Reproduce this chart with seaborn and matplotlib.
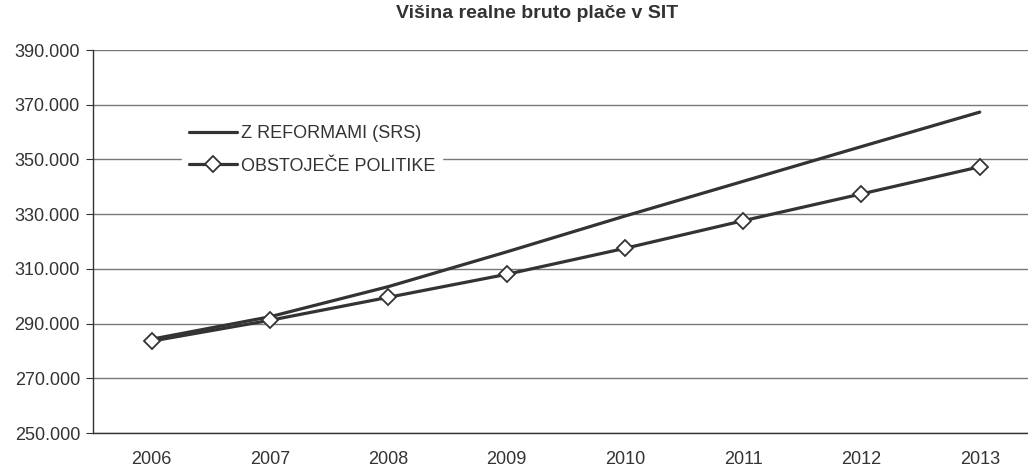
import matplotlib
matplotlib.use("Agg")
import matplotlib.pyplot as plt
from matplotlib.ticker import FuncFormatter, FixedLocator
import seaborn as sns
import pandas as pd

years = ["2006", "2007", "2008", "2009", "2010", "2011", "2012", "2013"]
reform = [284300, 292500, 303500, 316200, 329300, 342000, 354700, 367300]
current = [283600, 291200, 299600, 308000, 317500, 327600, 337400, 347300]
series_names = ["Z REFORMAMI (SRS)", "OBSTOJEČE POLITIKE"]

df = pd.DataFrame({
    "year": years * 2,
    "value": reform + current,
    "series": [series_names[0]] * len(years) + [series_names[1]] * len(years),
})

sns.set_style("white")
plt.rcParams["font.family"] = ["Liberation Sans", "DejaVu Sans"]
ink = "#333333"

fig = plt.figure(figsize=(10.28, 4.70), dpi=100)
ax = fig.add_axes([0.09, 0.0787, 0.9206, 0.8149])

sns.lineplot(data=df[df.series == series_names[0]], x="year", y="value",
             color=ink, linewidth=2.3, ax=ax, label=series_names[0])
sns.lineplot(data=df[df.series == series_names[1]], x="year", y="value",
             color=ink, linewidth=2.3, marker="D", markersize=8.5,
             markerfacecolor="white", markeredgecolor=ink, markeredgewidth=1.3,
             ax=ax, label=series_names[1])

ax.set_xlim(-0.5, len(years) - 0.5)
ax.set_ylim(250000, 390000)
ax.set_yticks(range(250000, 390001, 20000))
ax.yaxis.set_major_formatter(FuncFormatter(lambda v, p: f"{int(v):,}".replace(",", ".")))
ax.grid(axis="y", color="#777777", linewidth=1)
ax.set_axisbelow(True)

ax.xaxis.set_minor_locator(FixedLocator([i - 0.5 for i in range(len(years) + 1)]))
ax.tick_params(axis="x", which="major", length=0, pad=13, labelsize=13, labelcolor=ink)
ax.tick_params(axis="x", which="minor", length=5, direction="out", color=ink, width=1)
ax.tick_params(axis="y", length=5, direction="out", color=ink, labelsize=13,
               labelcolor=ink, left=True, pad=4)

for s in ["top", "right"]:
    ax.spines[s].set_visible(False)
for s in ["left", "bottom"]:
    ax.spines[s].set_color(ink)
    ax.spines[s].set_linewidth(1)

ax.set_xlabel("")
ax.set_ylabel("")

leg = ax.legend(loc="center left", bbox_to_anchor=(0.177, 1 - 150 / 470),
                bbox_transform=fig.transFigure, frameon=True,
                fontsize=13, handlelength=2.65, handletextpad=0.2,
                borderpad=0.4, labelspacing=0.85, borderaxespad=0)
leg.get_frame().set_facecolor("white")
leg.get_frame().set_edgecolor("white")
leg.get_frame().set_alpha(1)
leg.get_frame().set_boxstyle("square", pad=0)
for t in leg.get_texts():
    t.set_color(ink)

fig.text(537.5 / 1028, 1 - 14 / 470, "Višina realne bruto plače v SIT",
         ha="center", va="center", fontsize=14, fontweight="bold", color=ink)

fig.savefig("out.png", dpi=100)
